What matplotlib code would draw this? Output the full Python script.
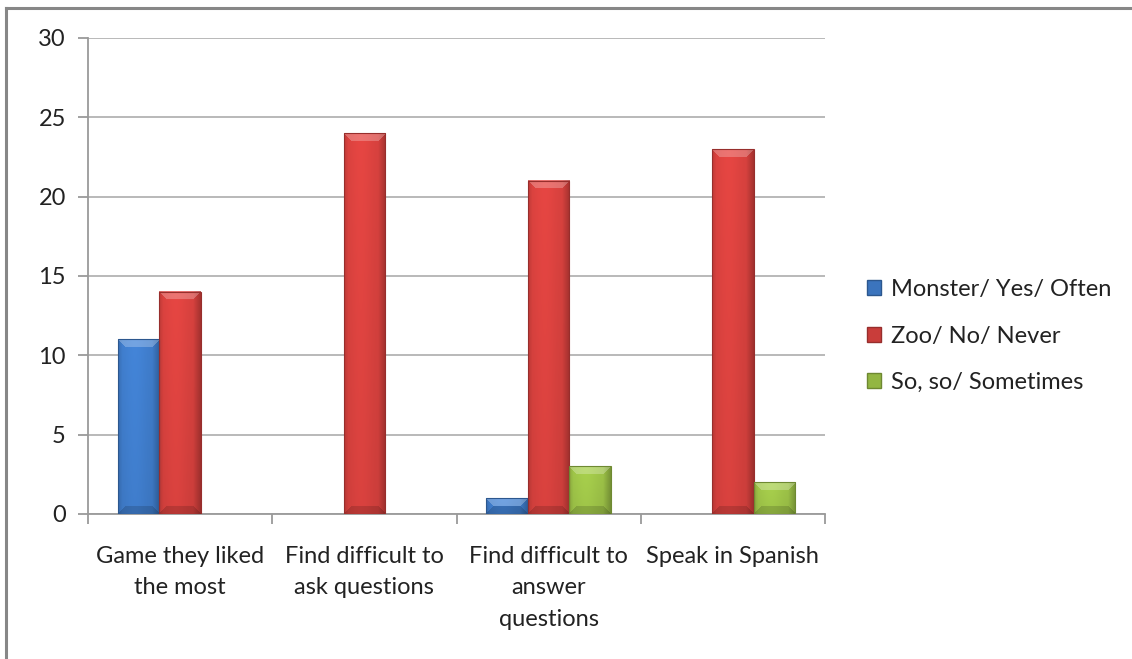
import numpy as np
import matplotlib.pyplot as plt
from matplotlib.patches import Patch
from matplotlib.lines import Line2D
import matplotlib.colors as mcolors

plt.rcParams['font.family'] = ['Lato', 'DejaVu Sans']

categories = ["Game they liked\nthe most", "Find difficult to\nask questions",
              "Find difficult to\nanswer\nquestions", "Speak in Spanish"]
series_names = ["Monster/ Yes/ Often", "Zoo/ No/ Never", "So, so/ Sometimes"]
monster_yes = [11, 0, 1, 0]
zoo_no = [14, 24, 21, 23]
soso_sometimes = [0, 0, 3, 2]
colors = ["#3b74bd", "#c93d3a", "#93b643"]

W, H = 1132, 659
fig = plt.figure(figsize=(W / 100, H / 100), dpi=100)
ax = fig.add_axes([88 / W, 1 - 514 / H, (825 - 88) / W, (514 - 38) / H])

# outer chart frame (top and left edges only visible)
fig.add_artist(Line2D([6 / W, 6 / W], [0, 1 - 8 / H], color="#878787", lw=2.2,
                      transform=fig.transFigure))
fig.add_artist(Line2D([6 / W, 1], [1 - 8 / H, 1 - 8 / H], color="#878787", lw=2.2,
                      transform=fig.transFigure))

x = np.arange(len(categories))
bw = 0.2255
px_per_unit = (514 - 38) / 30.0


def shaded_bar(ax, patch, base):
    # fake the Excel bevel look with an image clipped to the bar
    x0, y0 = patch.get_x(), patch.get_y()
    w, h = patch.get_width(), patch.get_height()
    if h <= 0:
        return
    hp = max(int(round(h * px_per_unit)), 2)
    wp = 42
    rgb = np.array(mcolors.to_rgb(base))
    u = np.linspace(0, 1, wp)
    prof = 1.0 + 0.08 * np.exp(-((u - 0.4) / 0.3) ** 2) - 0.22 * np.clip((u - 0.82) / 0.18, 0, 1) \
        - 0.10 * np.clip((0.1 - u) / 0.1, 0, 1)
    img = np.ones((hp, wp, 3)) * rgb
    img *= prof[None, :, None]
    # slightly lighter towards the top
    vert = 1.0 + 0.06 * (1 - np.arange(hp) / max(hp - 1, 1))
    img *= vert[:, None, None]
    rows = np.arange(hp)[:, None]
    cols = np.arange(wp)[None, :]
    bev = min(8, hp // 2)
    # top bevel lighter, bottom bevel darker
    top = (rows < bev) & (cols >= rows) & (cols < wp - rows)
    img[top] = img[top] * 0.75 + 0.25
    bot = (rows >= hp - bev) & (cols >= hp - 1 - rows) & (cols < wp - (hp - 1 - rows))
    img[bot] = img[bot] * 0.85
    img = np.clip(img, 0, 1)
    ax.imshow(img, extent=(x0, x0 + w, y0, y0 + h), aspect="auto",
              interpolation="bilinear", zorder=3)
    edge = rgb * 0.75
    ax.add_patch(plt.Rectangle((x0, y0), w, h, fill=False, edgecolor=edge, lw=0.8, zorder=4))


for i, (vals, col) in enumerate(zip([monster_yes, zoo_no, soso_sometimes], colors)):
    bars = ax.bar(x + (i - 1) * bw, vals, width=bw, color="none", zorder=2)
    for p in bars.patches:
        shaded_bar(ax, p, col)

ax.set_xlim(-0.5, len(categories) - 0.5)
ax.set_ylim(0, 30)
ax.set_yticks(range(0, 31, 5))
ax.yaxis.grid(True, color="#b3b3b3", lw=1.3)
ax.set_axisbelow(True)

ax.set_xticks(np.arange(-0.5, len(categories), 1.0))
ax.set_xticklabels([])
ax.set_xticks(x, minor=True)
ax.set_xticklabels(categories, minor=True, fontsize=17, linespacing=1.62, color="#222222")
ax.tick_params(axis="x", which="minor", length=0, pad=23)
ax.tick_params(axis="x", which="major", length=7, color="#9a9a9a", width=1.3)
ax.tick_params(axis="y", length=7, color="#9a9a9a", width=1.3, labelsize=17,
               labelcolor="#222222", pad=9)

for s in ["top", "right"]:
    ax.spines[s].set_visible(False)
for s in ["left", "bottom"]:
    ax.spines[s].set_color("#9a9a9a")
    ax.spines[s].set_linewidth(1.3)

handles = [Patch(facecolor=c, edgecolor=mcolors.to_hex(np.array(mcolors.to_rgb(c)) * 0.75))
           for c in colors]
fig.legend(handles, series_names, loc="center left", bbox_to_anchor=(846 / W, 1 - 336 / H),
           frameon=False, fontsize=17, handlelength=0.6, handleheight=0.6,
           handletextpad=0.4, labelspacing=1.08, labelcolor="#222222")

fig.savefig("out.png", dpi=100, facecolor="white")
